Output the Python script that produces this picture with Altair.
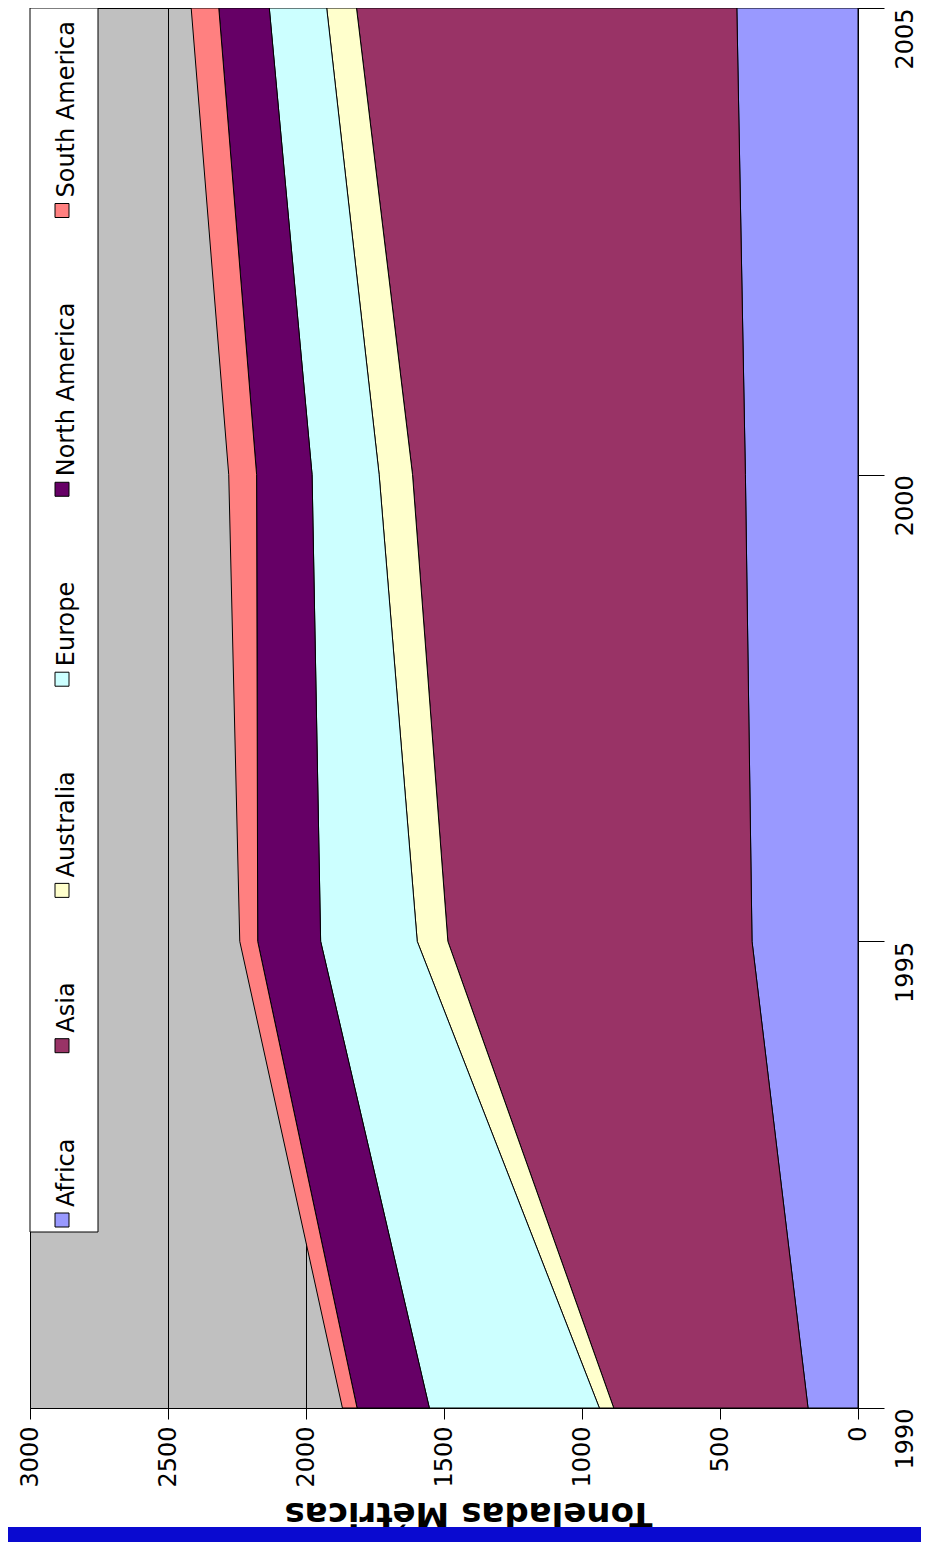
import altair as alt
import pandas as pd

# ---------------- data ----------------
years = [1990, 1995, 2000, 2005]
series = ["Africa", "Asia", "Australia", "Europe", "North America", "South America"]
africa = [181, 384, 408, 439]
asia = [704, 1102, 1206, 1378]
australia = [52, 111, 121, 108]
europe = [616, 350, 243, 208]
north_america = [262, 228, 201, 183]
south_america = [53, 65, 101, 100]
value_ticks = [0, 500, 1000, 1500, 2000, 2500, 3000]
year_ticks = [1990, 1995, 2000, 2005]
axis_title = "Toneladas Métricas"

colors = ["#9999FF", "#993366", "#FFFFCC", "#CCFFFF", "#660066", "#FF8080"]

rows = []
for idx, (name, vals) in enumerate(zip(series, [africa, asia, australia, europe,
                                                 north_america, south_america])):
    for yr, v in zip(years, vals):
        rows.append({"series": name, "year": yr, "value": v, "idx": idx})
df = pd.DataFrame(rows)

# ---------------- layout ----------------
W, H = 828, 1400
PAD_L, PAD_R, PAD_B = 22, 63, 134
FONT = "DejaVu Sans"
FS = 24
color_scale = alt.Scale(domain=series, range=colors)

# approximate DejaVu Sans advance widths (em) to lay out the rotated legend
_cw = {"A": .684, "f": .352, "r": .411, "i": .278, "c": .550, "a": .613, "s": .521,
       "u": .634, "t": .392, "l": .278, "E": .632, "o": .612, "p": .635, "e": .615,
       "N": .748, "h": .634, " ": .318, "m": .974, "S": .635}


def text_width(s, size):
    return size * sum(_cw.get(ch, 0.6) for ch in s)


sw_half, sw_pad, item_gap = 7, 6, 85
centers, starts = [], []
c = 1212.0
for name in series:
    centers.append(c)
    t = c - sw_half - sw_pad
    starts.append(t)
    c = t - text_width(name, FS) - item_gap - sw_half
leg_df = pd.DataFrame({"series": series, "sy": centers, "ty": starts})

area = alt.Chart(df).mark_area(
    orient="horizontal", stroke="black", strokeWidth=1, opacity=1
).encode(
    x=alt.X(
        "value:Q", stack="zero",
        scale=alt.Scale(domain=[0, 3000], reverse=True, nice=False),
        axis=alt.Axis(
            values=value_ticks, format="d", title=axis_title,
            grid=True, gridColor="black", gridWidth=1, gridOpacity=1,
            tickSize=11, tickColor="black", domainColor="black",
            labelAngle=270, labelAlign="right", labelBaseline="middle",
            labelPadding=7, labelFlush=False, labelOverlap=False,
            labelFont=FONT, labelFontSize=FS, labelColor="black",
            titleFont=FONT, titleFontWeight="bold", titleFontSize=34,
            titleAngle=180, titleBaseline="bottom", titlePadding=8,
            titleColor="black", titleX=438,
        ),
    ),
    y=alt.Y(
        "year:Q",
        scale=alt.Scale(domain=[1990, 2005], nice=False, zero=False),
        axis=alt.Axis(
            orient="right", values=year_ticks, format="d", title=None,
            grid=False, tickSize=26, tickColor="black", domainColor="black",
            labelAngle=270, labelAlign="right", labelBaseline="top",
            labelPadding=9, labelFlush=False, labelOverlap=False,
            labelFont=FONT, labelFontSize=FS, labelColor="black",
        ),
    ),
    color=alt.Color("series:N", scale=color_scale, legend=None),
    order=alt.Order("idx:Q"),
)

box = alt.Chart(pd.DataFrame({"k": [0]})).mark_rect(
    fill="white", stroke="black", strokeWidth=1
).encode(x=alt.value(0), x2=alt.value(68), y=alt.value(0), y2=alt.value(1224))

swatch = alt.Chart(leg_df).mark_square(
    size=196, filled=True, opacity=1, stroke="black", strokeWidth=1
).encode(
    x=alt.value(32),
    y=alt.Y("sy:Q", scale=None, axis=None),
    color=alt.Color("series:N", scale=color_scale, legend=None),
)

ltext = alt.Chart(leg_df).mark_text(
    angle=270, align="left", baseline="middle", font=FONT, fontSize=FS, color="black"
).encode(
    x=alt.value(37),
    y=alt.Y("ty:Q", scale=None, axis=None),
    text="series:N",
)

bar = alt.Chart(pd.DataFrame({"k": [0]})).mark_rect(color="#0A0AD0").encode(
    x=alt.value(-PAD_L), x2=alt.value(W + PAD_R), y=alt.value(H + 119), y2=alt.value(H + PAD_B)
)

chart = alt.layer(area, box, swatch, ltext, bar).properties(
    width=W, height=H,
    autosize=alt.AutoSizeParams(type="none"),
    padding={"left": PAD_L, "top": 0, "right": PAD_R, "bottom": PAD_B},
).configure_view(fill="#C0C0C0", stroke="black", strokeWidth=1)

chart.save("out.html", embed_options={"renderer": "svg", "actions": False})
